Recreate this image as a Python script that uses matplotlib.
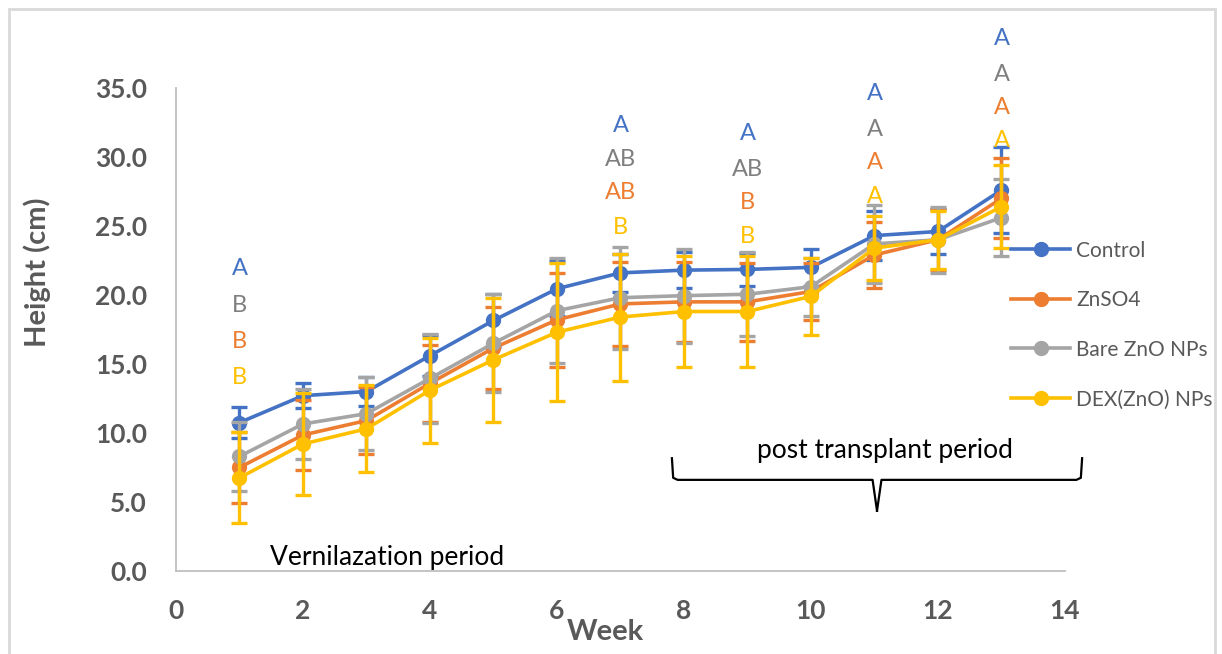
import matplotlib
matplotlib.use("Agg")
import matplotlib.pyplot as plt
from matplotlib.patches import Rectangle
from matplotlib.lines import Line2D
import numpy as np

plt.rcParams['font.family'] = ['Lato', 'DejaVu Sans']

weeks = np.arange(1, 14)

control = [10.75, 12.7, 13.0, 15.6, 18.15, 20.45, 21.6, 21.8, 21.85, 22.0, 24.3, 24.6, 27.6]
control_err = [1.1, 0.9, 1.05, 1.5, 1.9, 2.0, 1.4, 1.3, 1.2, 1.35, 1.8, 1.6, 3.1]

znso4 = [7.5, 9.85, 10.9, 13.6, 16.15, 18.2, 19.35, 19.5, 19.5, 20.25, 22.9, 24.0, 27.0]
znso4_err = [2.6, 2.55, 2.45, 2.8, 2.95, 3.4, 3.05, 2.9, 2.85, 2.1, 2.4, 2.2, 2.9]

bare = [8.3, 10.65, 11.4, 13.95, 16.5, 18.86, 19.8, 19.95, 20.05, 20.6, 23.7, 24.0, 25.6]
bare_err = [2.5, 2.55, 2.65, 3.25, 3.55, 3.8, 3.7, 3.4, 3.05, 2.1, 2.8, 2.4, 2.8]

dex = [6.75, 9.2, 10.3, 13.1, 15.3, 17.3, 18.4, 18.8, 18.8, 19.9, 23.4, 24.0, 26.4]
dex_err = [3.3, 3.7, 3.15, 3.8, 4.5, 5.0, 4.6, 4.0, 4.0, 2.8, 2.3, 2.1, 3.0]

labels = ["Control", "ZnSO4", "Bare ZnO NPs", "DEX(ZnO) NPs"]
colors = ["#4472C4", "#ED7D31", "#A5A5A5", "#FFC000"]
letter_colors = {"c": "#4472C4", "g": "#7F7F7F", "o": "#ED7D31", "y": "#FFC000"}

# significance letters: week, y position, text, colour key
letter_weeks = [1, 1, 1, 1, 7, 7, 7, 7, 9, 9, 9, 9, 11, 11, 11, 11, 13, 13, 13, 13]
letter_y = [21.9, 19.2, 16.6, 14.0, 32.3, 29.8, 27.4, 24.9, 31.7, 29.1, 26.7, 24.2,
            34.6, 32.0, 29.6, 27.1, 38.6, 36.0, 33.6, 31.2]
letter_txt = ["A", "B", "B", "B", "A", "AB", "AB", "B", "A", "AB", "B", "B",
              "A", "A", "A", "A", "A", "A", "A", "A"]
letter_col = ["c", "g", "o", "y"] * 5

fig = plt.figure(figsize=(12.22, 6.54), dpi=100)
ax = fig.add_axes([0.144, 0.127, 0.7275, 0.7385])

series = [(control, control_err), (znso4, znso4_err), (bare, bare_err), (dex, dex_err)]
handles = []
for i, ((m, e), lab, col) in enumerate(zip(series, labels, colors)):
    ax.errorbar(weeks, m, yerr=e, color=col, lw=2.6, marker="o", ms=10,
                elinewidth=2.4, capsize=6, capthick=2.4, zorder=3 + i)
    handles.append(Line2D([], [], color=col, lw=2.6, marker="o", ms=10, label=lab))

for wx, wy, t, c in zip(letter_weeks, letter_y, letter_txt, letter_col):
    ax.text(wx, wy, t, color=letter_colors[c], fontsize=17, ha="center", va="center",
            clip_on=False)

ax.set_xlim(0, 14)
ax.set_ylim(0, 35)
ax.set_xticks(range(0, 15, 2))
ax.set_yticks(np.arange(0, 36, 5))
ax.set_yticklabels([f"{v:.1f}" for v in np.arange(0, 36, 5)])
ax.tick_params(length=0, labelsize=19, labelcolor="#595959")
ax.tick_params(axis="x", pad=20)
ax.tick_params(axis="y", pad=21)
for lbl in ax.get_xticklabels() + ax.get_yticklabels():
    lbl.set_fontweight("bold")
for s in ["top", "right"]:
    ax.spines[s].set_visible(False)
for s in ["left", "bottom"]:
    ax.spines[s].set_color("#BFBFBF")
    ax.spines[s].set_linewidth(1.3)

fig.text(605 / 1222, 1 - 632 / 654, "Week", fontsize=21, fontweight="bold",
         color="#595959", ha="center", va="center")
fig.text(37 / 1222, 1 - 272 / 654, "Height (cm)", fontsize=21, fontweight="bold",
         color="#595959", ha="center", va="center", rotation=90)

# period annotations
ax.text(3.33, 1.0, "Vernilazation period", fontsize=19, ha="center", va="center")
ax.text(11.17, 8.75, "post transplant period", fontsize=19, ha="center", va="center",
        clip_on=False)
bx = [7.81, 7.83, 7.9, 10.97, 11.04, 11.11, 14.18, 14.25, 14.27]
by = [8.17, 6.75, 6.6, 6.6, 4.36, 6.6, 6.6, 6.75, 8.17]
ax.plot(bx[:5], by[:5], color="black", lw=1.6, clip_on=False)
ax.plot(bx[4:], by[4:], color="black", lw=1.6, clip_on=False)

leg = fig.legend(handles=handles, loc="center left",
                 bbox_to_anchor=(1001 / 1222, 1 - 325 / 654),
                 frameon=False, fontsize=15, labelspacing=1.42, handlelength=2.8,
                 handletextpad=0.3, borderpad=0)
for t in leg.get_texts():
    t.set_color("#595959")

fig.patches.append(Rectangle((9 / 1222, -0.05), 1206 / 1222, 1.05 - 9 / 654,
                             transform=fig.transFigure, fill=False,
                             edgecolor="#D9D9D9", lw=2))

fig.savefig("out.png", dpi=100)
